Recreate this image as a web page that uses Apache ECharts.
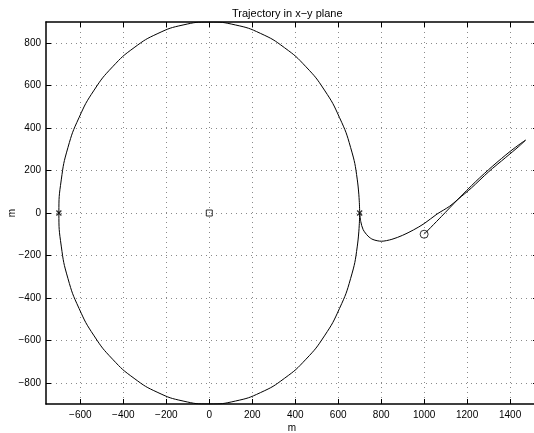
<!DOCTYPE html>
<html>
<head>
<meta charset="utf-8">
<script src="https://cdn.jsdelivr.net/npm/echarts@6/dist/echarts.min.js"></script>
<style>
  html, body { margin: 0; padding: 0; background: #fff; }
  #chart { width: 534px; height: 433px; }
</style>
</head>
<body>
<div id="chart"></div>
<script>
// Closed orbit around the origin (x, y in metres)
const orbitPoints = [
  [700, 0], [689, 156], [658, 308], [606, 450], [536, 579], [450, 689],
  [350, 779], [239, 846], [122, 886], [0, 900], [-122, 886], [-239, 846],
  [-350, 779], [-450, 689], [-536, 579], [-606, 450], [-658, 308], [-689, 156],
  [-700, 0], [-689, -156], [-658, -308], [-606, -450], [-536, -579], [-450, -689],
  [-350, -779], [-239, -846], [-122, -886], [0, -900], [122, -886], [239, -846],
  [350, -779], [450, -689], [536, -579], [606, -450], [658, -308], [689, -156],
  [700, 0]
];

// Approach path: from the start point out to the turn, back, and onto the orbit
const approachPoints = [
  [1000, -100], [1080, -17], [1158, 65], [1240, 148], [1320, 222], [1400, 290],
  [1450, 328], [1472, 343], [1440, 313], [1380, 262], [1300, 194], [1220, 118],
  [1158, 65], [1119, 32], [1060, -5], [1000, -50], [950, -80], [900, -105],
  [850, -124], [801, -133], [762, -125], [739, -109], [716, -78], [705, -40],
  [700, 0]
];

const startPoint = [[1000, -100]];
const crossPoints = [[-700, 0], [700, 0]];
const centrePoint = [[0, 0]];

const xTicks = [-600, -400, -200, 0, 200, 400, 600, 800, 1000, 1200, 1400];
const yTicks = [-800, -600, -400, -200, 0, 200, 400, 600, 800];

const xRange = [-760, 1530];
const yRange = [-900, 900];

const fontFamily = '"Liberation Sans", Arial, Helvetica, sans-serif';
const minusFmt = v => String(v).replace('-', '\u2212');

const frameLine = { show: true, onZero: false, lineStyle: { color: '#000', width: 1.5 } };
const gridLine = { show: true, lineStyle: { color: '#8a8a8a', width: 1, type: [1, 4] } };
const tickStyle = { show: true, inside: true, length: 5, lineStyle: { color: '#000' } };

const chart = echarts.init(document.getElementById('chart'), null, { renderer: 'canvas' });

chart.setOption({
  animation: false,
  backgroundColor: '#fff',
  title: {
    text: 'Trajectory in x\u2212y plane',
    left: 227,
    top: 3,
    textStyle: { fontFamily, fontSize: 11, fontWeight: 'normal', color: '#000' }
  },
  grid: { left: 46, top: 22, width: 492, height: 382, outerBoundsMode: 'none', containLabel: false },
  xAxis: [
    {
      type: 'value', min: xRange[0], max: xRange[1],
      name: 'm', nameLocation: 'middle', nameGap: 19, nameMoveOverlap: false,
      nameTextStyle: { fontFamily, fontSize: 10, color: '#000' },
      axisLine: frameLine,
      axisTick: Object.assign({ customValues: xTicks }, tickStyle),
      axisLabel: { customValues: xTicks, formatter: minusFmt, fontFamily, fontSize: 10, color: '#000', margin: 6 },
      splitLine: gridLine
    },
    {
      type: 'value', min: xRange[0], max: xRange[1], position: 'top',
      axisLine: frameLine,
      axisTick: Object.assign({ customValues: xTicks }, tickStyle),
      axisLabel: { show: false },
      splitLine: { show: false }
    }
  ],
  yAxis: [
    {
      type: 'value', min: yRange[0], max: yRange[1],
      name: 'm', nameLocation: 'middle', nameGap: 29, nameMoveOverlap: false,
      nameTextStyle: { fontFamily, fontSize: 10, color: '#000' },
      axisLine: frameLine,
      axisTick: Object.assign({ customValues: yTicks }, tickStyle),
      axisLabel: { customValues: yTicks, formatter: minusFmt, fontFamily, fontSize: 10, color: '#000', margin: 5 },
      splitLine: gridLine
    },
    {
      type: 'value', min: yRange[0], max: yRange[1], position: 'right',
      axisLine: frameLine,
      axisTick: Object.assign({ customValues: yTicks }, tickStyle),
      axisLabel: { show: false },
      splitLine: { show: false }
    }
  ],
  series: [
    {
      type: 'line', data: orbitPoints, smooth: 0.5, showSymbol: false,
      lineStyle: { color: '#000', width: 1 }, z: 3
    },
    {
      type: 'line', data: approachPoints, smooth: 0.3, showSymbol: false,
      lineStyle: { color: '#000', width: 1 }, z: 3
    },
    {
      type: 'scatter', data: startPoint, symbol: 'circle', symbolSize: 8,
      itemStyle: { color: 'rgba(0,0,0,0)', borderColor: '#000', borderWidth: 1 }, z: 4
    },
    {
      type: 'scatter', data: crossPoints, symbol: 'path://M0,0L10,10M10,0L0,10', symbolSize: 5,
      itemStyle: { color: 'rgba(0,0,0,0)', borderColor: '#000', borderWidth: 1.3 }, z: 4
    },
    {
      type: 'scatter', data: centrePoint, symbol: 'rect', symbolSize: 6,
      itemStyle: { color: 'rgba(0,0,0,0)', borderColor: '#000', borderWidth: 1 }, z: 4
    }
  ]
});
</script>
</body>
</html>
